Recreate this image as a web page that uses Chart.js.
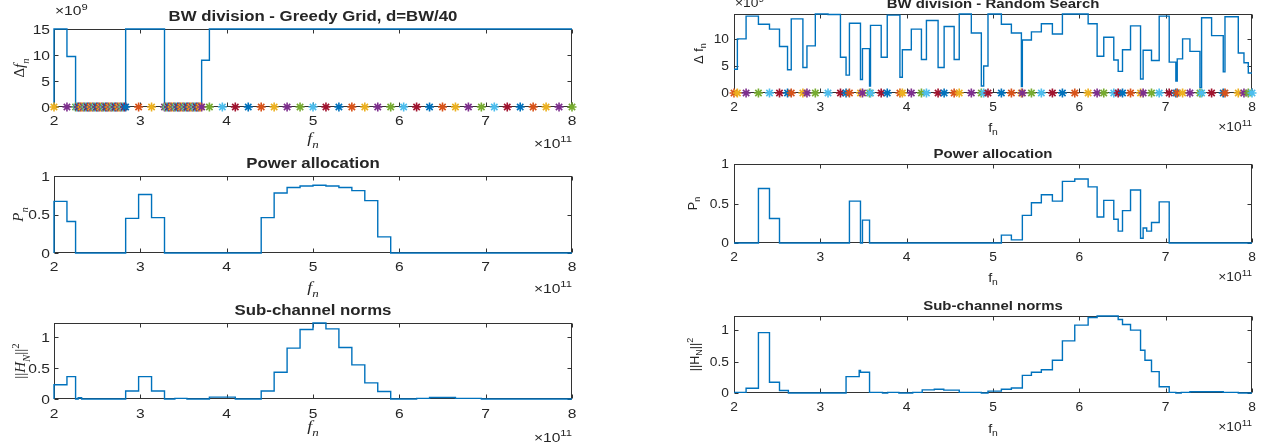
<!DOCTYPE html>
<html>
<head>
<meta charset="utf-8">
<script src="https://cdn.jsdelivr.net/npm/chart.js@4.4.1/dist/chart.umd.min.js"></script>
<style>
html, body { margin: 0; padding: 0; background: #fff; overflow: hidden; }
#fig { position: relative; width: 1267px; height: 448px; background: #fff; }
#fig canvas { position: absolute; left: 0; top: 0; }
</style>
</head>
<body>
<div id="fig"></div>
<script>
// axis ticks
const xTicks = [2, 3, 4, 5, 6, 7, 8];
const xTickLabels = ['2', '3', '4', '5', '6', '7', '8'];
const greedyDfTicks = [0, 5, 10, 15];
const greedyDfTickLabels = ['0', '5', '10', '15'];
const randomDfTicks = [0, 5, 10];
const randomDfTickLabels = ['0', '5', '10'];
const unitTicks = [0, 0.5, 1];
const unitTickLabels = ['0', '0.5', '1'];

// greedy grid: subchannel widths (x1e9), step change points (x1e11)
const greedyStepF  = [2.00, 2.00, 2.15, 2.25, 2.83, 3.28, 3.71, 3.80, 8.00];
const greedyStepDf = [0, 15, 9.7, 0.6, 15, 0.6, 9.0, 15, 15];

// greedy grid: subchannel frequencies f_n
const greedyMarkF = [2.00, 2.15,
  2.250, 2.265, 2.281, 2.296, 2.311, 2.326, 2.342, 2.357, 2.372, 2.387,
  2.403, 2.418, 2.433, 2.448, 2.464, 2.479, 2.494, 2.509, 2.525, 2.540,
  2.555, 2.570, 2.586, 2.601, 2.616, 2.631, 2.647, 2.662, 2.677, 2.692,
  2.708, 2.723, 2.738, 2.753, 2.769, 2.784, 2.799, 2.814,
  2.83, 2.98, 3.13,
  3.280, 3.295, 3.311, 3.326, 3.341, 3.357, 3.372, 3.388, 3.403, 3.418,
  3.434, 3.449, 3.464, 3.480, 3.495, 3.510, 3.526, 3.541, 3.556, 3.572,
  3.587, 3.603, 3.618, 3.633, 3.649, 3.664, 3.679, 3.695,
  3.71,
  3.80, 3.95, 4.10, 4.25, 4.40, 4.55, 4.70, 4.85, 5.00, 5.15,
  5.30, 5.45, 5.60, 5.75, 5.90, 6.05, 6.20, 6.35, 6.50, 6.65,
  6.80, 6.95, 7.10, 7.25, 7.40, 7.55, 7.70, 7.85, 8.00];

// greedy grid: power allocation
const greedyPF = [2.00, 2.00, 2.15, 2.25, 2.83, 2.98, 3.13, 3.28, 4.40, 4.55, 4.70, 4.85,
  5.00, 5.15, 5.30, 5.45, 5.60, 5.75, 5.90, 8.00];
const greedyP  = [0, 0.67, 0.41, 0, 0.45, 0.76, 0.46, 0, 0.46, 0.78, 0.85, 0.87,
  0.88, 0.87, 0.85, 0.81, 0.68, 0.21, 0, 0];

// greedy grid: sub-channel norms
const greedyHF = [2.00, 2.00, 2.15, 2.25, 2.28, 2.32, 2.83, 2.98, 3.13, 3.28, 3.40, 3.54,
  3.80, 4.10, 4.40, 4.55, 4.70, 4.85, 5.00, 5.15, 5.30, 5.45, 5.60, 5.75, 5.90,
  6.20, 6.35, 6.65, 6.95, 8.00];
const greedyH  = [0, 0.23, 0.36, 0, 0.02, 0, 0.13, 0.36, 0.13, 0, 0.01, 0,
  0.03, 0, 0.13, 0.43, 0.82, 1.12, 1.225, 1.13, 0.83, 0.55, 0.26, 0.12, 0,
  0.01, 0.025, 0.01, 0, 0];

// random search: f_n and widths
const randomF = [2.000, 2.039, 2.140, 2.283, 2.411, 2.527, 2.620, 2.663, 2.798, 2.845,
  2.942, 3.089, 3.233, 3.298, 3.337, 3.465, 3.488, 3.570, 3.581, 3.705,
  3.775, 3.922, 3.950, 4.054, 4.171, 4.229, 4.364, 4.434, 4.550, 4.609,
  4.749, 4.865, 4.892, 4.942, 5.097, 5.213, 5.329, 5.340, 5.445, 5.560,
  5.688, 5.804, 5.947, 6.102, 6.206, 6.283, 6.399, 6.450, 6.500, 6.593,
  6.709, 6.739, 6.836, 6.925, 7.041, 7.118, 7.134, 7.196, 7.281, 7.397,
  7.416, 7.532, 7.667, 7.687, 7.841, 7.907, 7.957, 8.000];
const randomDf = [4.4, 10.0, 14.2, 12.7, 11.8, 8.6, 4.3, 13.7, 4.7, 8.7,
  14.6, 14.5, 6.6, 3.3, 12.9, 2.5, 8.2, 1.3, 12.5, 6.6,
  14.4, 2.9, 8.0, 11.8, 6.2, 13.4, 4.7, 12.3, 6.2, 14.6,
  11.1, 1.3, 5.0, 14.6, 12.7, 11.1, 1.2, 9.8, 11.3, 12.8,
  10.9, 14.6, 14.6, 12.8, 6.8, 10.3, 6.1, 4.0, 8.0, 12.4,
  2.6, 7.9, 6.0, 14.2, 5.7, 2.2, 6.3, 10.0, 7.7, 1.0,
  13.9, 10.6, 3.9, 14.1, 7.4, 5.6, 3.7, 3.7];

// random search: power allocation
const randomPF = [2.000, 2.283, 2.411, 2.527, 3.337, 3.465, 3.488, 3.570, 5.097, 5.213,
  5.340, 5.445, 5.560, 5.688, 5.804, 5.947, 6.102, 6.206, 6.283, 6.399,
  6.450, 6.500, 6.593, 6.709, 6.739, 6.780, 6.836, 6.925, 7.041, 8.000];
const randomP  = [0, 0.69, 0.31, 0, 0.53, 0, 0.29, 0, 0.10, 0.04,
  0.35, 0.51, 0.61, 0.53, 0.78, 0.81, 0.71, 0.33, 0.54, 0.30,
  0.15, 0.41, 0.67, 0.06, 0.19, 0.15, 0.26, 0.52, 0, 0];

// random search: sub-channel norms
const randomHF = [2.000, 2.140, 2.283, 2.411, 2.527, 2.630, 3.298, 3.450, 3.465, 3.570,
  3.720, 3.780, 3.910, 4.070, 4.180, 4.320, 4.430, 4.609, 4.865, 4.942,
  5.000, 5.097, 5.213, 5.340, 5.445, 5.560, 5.688, 5.804, 5.947, 6.102,
  6.206, 6.450, 6.500, 6.593, 6.709, 6.760, 6.836, 6.925, 7.041, 7.118,
  7.180, 7.281, 7.667, 7.841, 8.000];
const randomH  = [0.01, 0.075, 0.96, 0.17, 0.04, 0, 0.26, 0.36, 0.33, 0.01,
  0, 0.01, 0, 0.01, 0.05, 0.06, 0.045, 0.01, 0, 0.03,
  0.03, 0.06, 0.08, 0.28, 0.33, 0.37, 0.52, 0.83, 1.08, 1.2,
  1.225, 1.17, 1.09, 1.0, 0.68, 0.52, 0.34, 0.1, 0.01, 0,
  0.01, 0.02, 0.01, 0, 0];

const mlColors = ['#0072BD', '#D95319', '#EDB120', '#7E2F8E', '#77AC30', '#4DBEEE', '#A2142F'];
const lineBlue = '#0072BD';
const textCol = '#262626';
const W = 1267, H = 448;
const fig = document.getElementById('fig');

// rich text: parts = [{t, i (italic), s (-1 sub, 1 sup)}]
function partFont(p, size, family, bold) {
  const sz = p.s ? size * 0.72 : size;
  return (p.i ? 'italic ' : '') + (bold ? 'bold ' : '') + sz + 'px ' + family;
}
function drawRich(ctx, parts, x, y, align, size, family, stretch, bold) {
  let w = 0;
  for (const p of parts) { ctx.font = partFont(p, size, family, bold); w += ctx.measureText(p.t).width * stretch; }
  let cx = align === 'center' ? x - w / 2 : (align === 'right' ? x - w : x);
  ctx.textAlign = 'left';
  ctx.textBaseline = 'alphabetic';
  for (const p of parts) {
    ctx.font = partFont(p, size, family, bold);
    const dy = p.s === -1 ? size * 0.3 : (p.s === 1 ? -size * 0.42 : 0);
    ctx.save();
    ctx.translate(cx, y + dy);
    ctx.scale(stretch, 1);
    ctx.fillText(p.t, 0, 0);
    ctx.restore();
    cx += ctx.measureText(p.t).width * stretch;
  }
}

function axesPlugin(c) {
  return {
    id: 'axesText',
    beforeDatasetsDraw(chart) {
      const { ctx, chartArea: a, scales: { x, y } } = chart;
      const L = a.left + 0.5, R = a.right - 0.5, T = a.top + 0.5, B = a.bottom - 0.5;
      ctx.save();
      ctx.strokeStyle = '#333';
      ctx.lineWidth = 1;
      ctx.strokeRect(L, T, R - L, B - T);
      ctx.beginPath();
      x.ticks.forEach(t => {
        const px = Math.round(x.getPixelForValue(t.value)) + 0.5;
        ctx.moveTo(px, B); ctx.lineTo(px, B - 4);
        ctx.moveTo(px, T); ctx.lineTo(px, T + 4);
      });
      y.ticks.forEach(t => {
        const py = Math.round(y.getPixelForValue(t.value)) + 0.5;
        ctx.moveTo(L, py); ctx.lineTo(L + 4, py);
        ctx.moveTo(R, py); ctx.lineTo(R - 4, py);
      });
      ctx.stroke();
      ctx.restore();
    },
    afterDraw(chart) {
      const { ctx, chartArea: a, scales: { x, y } } = chart;
      const f = c.font;
      ctx.save();
      ctx.fillStyle = textCol;
      // tick labels
      x.ticks.forEach((t, i) => {
        drawRich(ctx, [{ t: xTickLabels[i] }], x.getPixelForValue(t.value), a.bottom + c.xTickDy + f.tick * 0.36,
          'center', f.tick, f.sans, f.stretch, false);
      });
      y.ticks.forEach((t, i) => {
        drawRich(ctx, [{ t: c.yTickLabels[i] }], a.left - c.yTickDx, y.getPixelForValue(t.value) + f.tick * 0.36,
          'right', f.tick, f.sans, f.stretch, false);
      });
      // title
      drawRich(ctx, [{ t: c.title }], (a.left + a.right) / 2, a.top - c.titleDy + f.title * 0.36,
        'center', f.title, f.sans, f.stretch, true);
      // x label
      drawRich(ctx, c.xLabel, (a.left + a.right) / 2, a.bottom + c.xLabelDy + f.label * 0.36,
        'center', f.label, f.labelFamily, f.stretch, false);
      // exponent under the x axis
      drawRich(ctx, [{ t: '\u00d710' }, { t: '11', s: 1 }], a.right, a.bottom + c.expoDy + f.tick * 0.36,
        'right', f.tick, f.sans, f.stretch, false);
      // exponent above the y axis
      if (c.yExpo) {
        drawRich(ctx, [{ t: '\u00d710' }, { t: c.yExpo, s: 1 }], a.left + 1, a.top - c.yExpoDy,
          'left', f.tick, f.sans, f.stretch, false);
      }
      // y label
      ctx.save();
      ctx.translate(c.yLabelX, (a.top + a.bottom) / 2);
      ctx.rotate(-Math.PI / 2);
      drawRich(ctx, c.yLabel, 0, f.label * 0.36, 'center', f.label, f.labelFamily, 1, false);
      ctx.restore();
      ctx.restore();
    }
  };
}

function stairs(F, V) {
  return {
    data: F.map((v, i) => ({ x: v, y: V[i] })),
    showLine: true,
    stepped: 'before',
    borderColor: lineBlue,
    borderWidth: 1.4,
    pointRadius: 0,
    fill: false,
    clip: 4
  };
}

function markers(F, offset) {
  const cols = F.map((v, i) => mlColors[(i + offset) % mlColors.length]);
  return {
    data: F.map(v => ({ x: v, y: 0 })),
    showLine: false,
    pointStyle: 'star',
    pointRadius: 4.5,
    pointBorderWidth: 1.6,
    pointBorderColor: cols,
    pointBackgroundColor: cols,
    clip: false
  };
}

function subplot(c) {
  const cv = document.createElement('canvas');
  cv.width = W; cv.height = H;
  fig.appendChild(cv);
  const [axL, axT, axR, axB] = c.box;
  new Chart(cv, {
    type: 'scatter',
    data: { datasets: c.datasets },
    options: {
      responsive: false,
      animation: false,
      devicePixelRatio: 1,
      events: [],
      layout: { padding: { left: axL - 10, top: axT, right: W - axR, bottom: H - axB - 10 } },
      plugins: { legend: { display: false }, tooltip: { enabled: false } },
      scales: {
        x: {
          type: 'linear', min: 2, max: 8,
          afterBuildTicks: s => { s.ticks = xTicks.map(v => ({ value: v })); },
          afterFit: s => { s.height = 10; },
          ticks: { display: false }, grid: { display: false }, border: { display: false }
        },
        y: {
          type: 'linear', min: 0, max: c.yMax,
          afterBuildTicks: s => { s.ticks = c.yTicks.map(v => ({ value: v })); },
          afterFit: s => { s.width = 10; },
          ticks: { display: false }, grid: { display: false }, border: { display: false }
        }
      }
    },
    plugins: [axesPlugin(c)]
  });
}

const leftFont = { tick: 13, title: 14, label: 15, sans: '"Liberation Sans", Arial, sans-serif',
  labelFamily: '"Liberation Serif", "Times New Roman", serif', stretch: 1.2 };
const rightFont = { tick: 12, title: 13, label: 12.5, sans: '"Liberation Sans", Arial, sans-serif',
  labelFamily: '"Liberation Sans", Arial, sans-serif', stretch: 1.15 };

const fnSerif = [{ t: 'f', i: true }, { t: 'n', i: true, s: -1 }];
const fnSans = [{ t: 'f' }, { t: 'n', s: -1 }];

// left column: greedy grid
subplot({
  box: [54, 29, 572, 107], yMax: 15, yTicks: greedyDfTicks, yTickLabels: greedyDfTickLabels,
  title: 'BW division - Greedy Grid, d=BW/40', font: leftFont,
  xTickDy: 13, yTickDx: 4, titleDy: 13, xLabelDy: 31, expoDy: 36, yExpo: '9', yExpoDy: 14,
  xLabel: fnSerif, yLabel: [{ t: '\u0394' }, { t: 'f', i: true }, { t: 'n', i: true, s: -1 }], yLabelX: 19,
  datasets: [markers(greedyMarkF, 2), stairs(greedyStepF, greedyStepDf)]
});
subplot({
  box: [54, 176, 572, 253], yMax: 1, yTicks: unitTicks, yTickLabels: unitTickLabels,
  title: 'Power allocation', font: leftFont,
  xTickDy: 13, yTickDx: 4, titleDy: 13, xLabelDy: 34, expoDy: 35,
  xLabel: fnSerif, yLabel: [{ t: 'P', i: true }, { t: 'n', i: true, s: -1 }], yLabelX: 18,
  datasets: [stairs(greedyPF, greedyP)]
});
subplot({
  box: [54, 323, 572, 399], yMax: 1.225, yTicks: unitTicks, yTickLabels: unitTickLabels,
  title: 'Sub-channel norms', font: leftFont,
  xTickDy: 14, yTickDx: 4, titleDy: 13, xLabelDy: 27, expoDy: 38,
  xLabel: fnSerif,
  yLabel: [{ t: '||' }, { t: 'H', i: true }, { t: 'N', i: true, s: -1 }, { t: '||' }, { t: '2', s: 1 }], yLabelX: 20,
  datasets: [stairs(greedyHF, greedyH)]
});

// right column: random search
subplot({
  box: [734, 14, 1252, 93], yMax: 14.6, yTicks: randomDfTicks, yTickLabels: randomDfTickLabels,
  title: 'BW division - Random Search', font: rightFont,
  xTickDy: 14, yTickDx: 5, titleDy: 11, xLabelDy: 34, expoDy: 34, yExpo: '9', yExpoDy: 7,
  xLabel: fnSans, yLabel: [{ t: '\u0394 f' }, { t: 'n', s: -1 }], yLabelX: 698,
  datasets: [markers(randomF, 1), stairs(randomF, randomDf)]
});
subplot({
  box: [734, 164, 1252, 243], yMax: 1, yTicks: unitTicks, yTickLabels: unitTickLabels,
  title: 'Power allocation', font: rightFont,
  xTickDy: 14, yTickDx: 5, titleDy: 11, xLabelDy: 34, expoDy: 34,
  xLabel: fnSans, yLabel: [{ t: 'P' }, { t: 'n', s: -1 }], yLabelX: 692,
  datasets: [stairs(randomPF, randomP)]
});
subplot({
  box: [734, 316, 1252, 393], yMax: 1.225, yTicks: unitTicks, yTickLabels: unitTickLabels,
  title: 'Sub-channel norms', font: rightFont,
  xTickDy: 14, yTickDx: 5, titleDy: 11, xLabelDy: 35, expoDy: 34,
  xLabel: fnSans,
  yLabel: [{ t: '||H' }, { t: 'N', s: -1 }, { t: '||' }, { t: '2', s: 1 }], yLabelX: 694,
  datasets: [stairs(randomHF, randomH)]
});
</script>
</body>
</html>
